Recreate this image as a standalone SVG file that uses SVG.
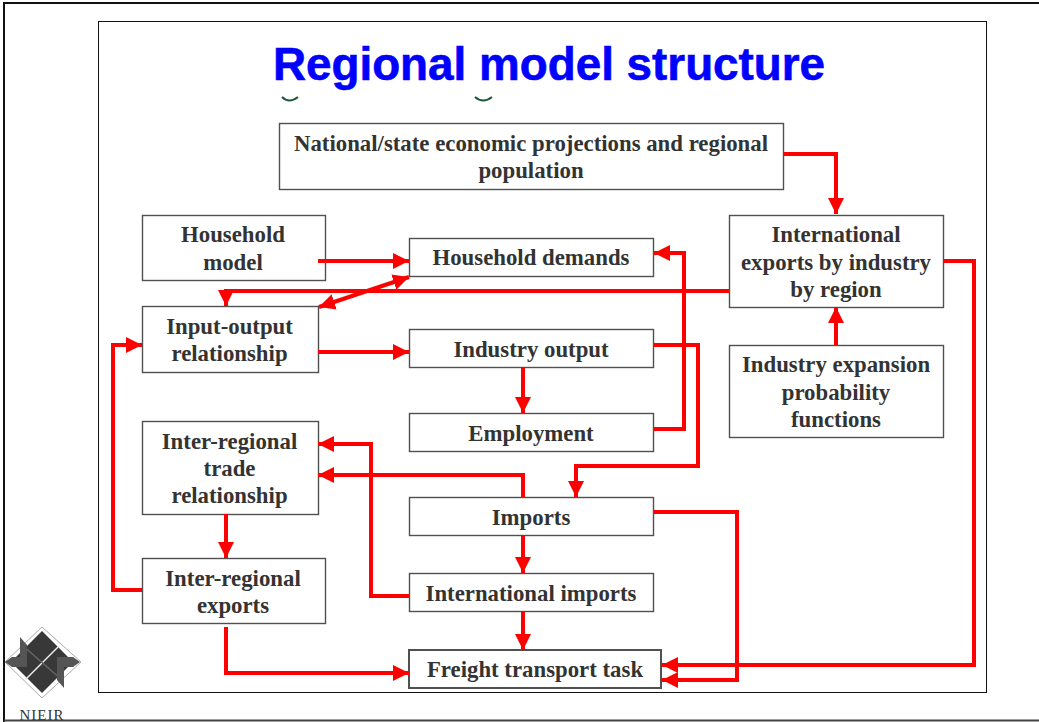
<svg xmlns="http://www.w3.org/2000/svg" width="1039" height="722" viewBox="0 0 1039 722">
<style>
.b{fill:#fff;stroke:#505050;stroke-width:1.4}
.t{font-family:"Liberation Serif",serif;font-weight:bold;font-size:22.800px;fill:#333;text-anchor:middle}
.c{fill:none;stroke:#f00;stroke-width:4}
</style>
<defs>
<marker id="a" markerUnits="userSpaceOnUse" markerWidth="18" markerHeight="18" refX="16" refY="8" orient="auto-start-reverse"><path d="M0 0L16 8L0 16Z" fill="#f00"/></marker>
</defs>
<rect x="0" y="0" width="1039" height="722" fill="#fff"/>
<rect x="98.500" y="21.500" width="888" height="671" fill="#fff" stroke="#111" stroke-width="1"/>
<g id="logo">
<path d="M42 627L81 662L42 698L5 662Z" fill="none" stroke="#aaa" stroke-width="1"/>
<path d="M42 631L73 662L42 693L11 662Z" fill="#383838"/>
<path d="M58 647L25 680" fill="none" stroke="#eee" stroke-width="1.500"/>
<path d="M22 645L62 680" fill="none" stroke="#666" stroke-width="1.500"/>
<path d="M5 662L12 657H20V637L27 645V667H12Z" fill="#555"/>
<path d="M80 662L73 667H64V688L57 680V657H73Z" fill="#555"/>
<text x="42" y="720" font-family="Liberation Serif,serif" font-size="15" letter-spacing="1" fill="#333" text-anchor="middle">NIEIR</text>
</g>
<path d="M4 722V3H1039" fill="none" stroke="#111" stroke-width="2"/>
<path d="M4 720.500H1039" fill="none" stroke="#444" stroke-width="2"/>
<g id="title">
<text x="549" y="79.500" font-family="Liberation Sans,sans-serif" font-weight="bold" font-size="45.800px" fill="#00f" stroke="#00f" stroke-width="0.600" text-anchor="middle">Regional model structure</text>
<path d="M282 97Q289 104 298 97M475 97Q483 104 492 97" fill="none" stroke="#1a5a3a" stroke-width="2"/>
</g>
<g id="n1"><rect class="b" x="279.500" y="123.500" width="504" height="66"/><text class="t" x="531" y="151">National/state economic projections and regional</text><text class="t" x="531" y="178">population</text></g>
<g id="n2"><rect class="b" x="142.500" y="215.500" width="183" height="65"/><text class="t" x="233" y="242">Household</text><text class="t" x="233" y="270">model</text></g>
<g id="n3"><rect class="b" x="409.500" y="238.500" width="244" height="38"/><text class="t" x="531" y="265">Household demands</text></g>
<g id="n4"><rect class="b" x="729.500" y="215.500" width="214" height="92"/><text class="t" x="836" y="242">International</text><text class="t" x="836" y="270">exports by industry</text><text class="t" x="836" y="297">by region</text></g>
<g id="n5"><rect class="b" x="142.500" y="306.500" width="176" height="66"/><text class="t" x="229.500" y="334">Input-output</text><text class="t" x="229.500" y="361">relationship</text></g>
<g id="n6"><rect class="b" x="409.500" y="329.500" width="244" height="38"/><text class="t" x="531" y="357">Industry output</text></g>
<g id="n7"><rect class="b" x="729.500" y="345.500" width="214" height="92"/><text class="t" x="836" y="372">Industry expansion</text><text class="t" x="836" y="400">probability</text><text class="t" x="836" y="427">functions</text></g>
<g id="n8"><rect class="b" x="409.500" y="413.500" width="244" height="38"/><text class="t" x="531" y="441">Employment</text></g>
<g id="n9"><rect class="b" x="142.500" y="421.500" width="176" height="93"/><text class="t" x="229.500" y="449">Inter-regional</text><text class="t" x="229.500" y="476">trade</text><text class="t" x="229.500" y="503">relationship</text></g>
<g id="n10"><rect class="b" x="409.500" y="497.500" width="244" height="38"/><text class="t" x="531" y="525">Imports</text></g>
<g id="n11"><rect class="b" x="142.500" y="558.500" width="183" height="65"/><text class="t" x="233" y="586">Inter-regional</text><text class="t" x="233" y="613">exports</text></g>
<g id="n12"><rect class="b" x="409.500" y="573.500" width="244" height="38"/><text class="t" x="531" y="601">International imports</text></g>
<g id="n13"><rect class="b" style="stroke-width:2" x="409" y="650" width="252" height="38"/><text class="t" x="535" y="677">Freight transport task</text></g>
<g id="connectors">
<path class="c" d="M783 154H836V214" marker-end="url(#a)"/>
<path class="c" d="M318 261H409" marker-end="url(#a)"/>
<path class="c" d="M729 291H226V306" marker-end="url(#a)"/>
<path class="c" d="M319 307L409 277" marker-start="url(#a)" marker-end="url(#a)"/>
<path class="c" d="M318 352H409" marker-end="url(#a)"/>
<path class="c" d="M523 367V413" marker-end="url(#a)"/>
<path class="c" d="M654 429H684V253H654" marker-end="url(#a)"/>
<path class="c" d="M654 345H698V466H576V497" marker-end="url(#a)"/>
<path class="c" d="M836 345V307" marker-end="url(#a)"/>
<path class="c" d="M943 261H974V665H662" marker-end="url(#a)"/>
<path class="c" d="M654 512H737V680H662" marker-end="url(#a)"/>
<path class="c" d="M523 497V475H318" marker-end="url(#a)"/>
<path class="c" d="M409 596H371V444H318" marker-end="url(#a)"/>
<path class="c" d="M523 535V573" marker-end="url(#a)"/>
<path class="c" d="M523 611V650" marker-end="url(#a)"/>
<path class="c" d="M226 514V558" marker-end="url(#a)"/>
<path class="c" d="M142 590H113V345H142" marker-end="url(#a)"/>
<path class="c" d="M226 627V673H409" marker-end="url(#a)"/>
</g>
</svg>
